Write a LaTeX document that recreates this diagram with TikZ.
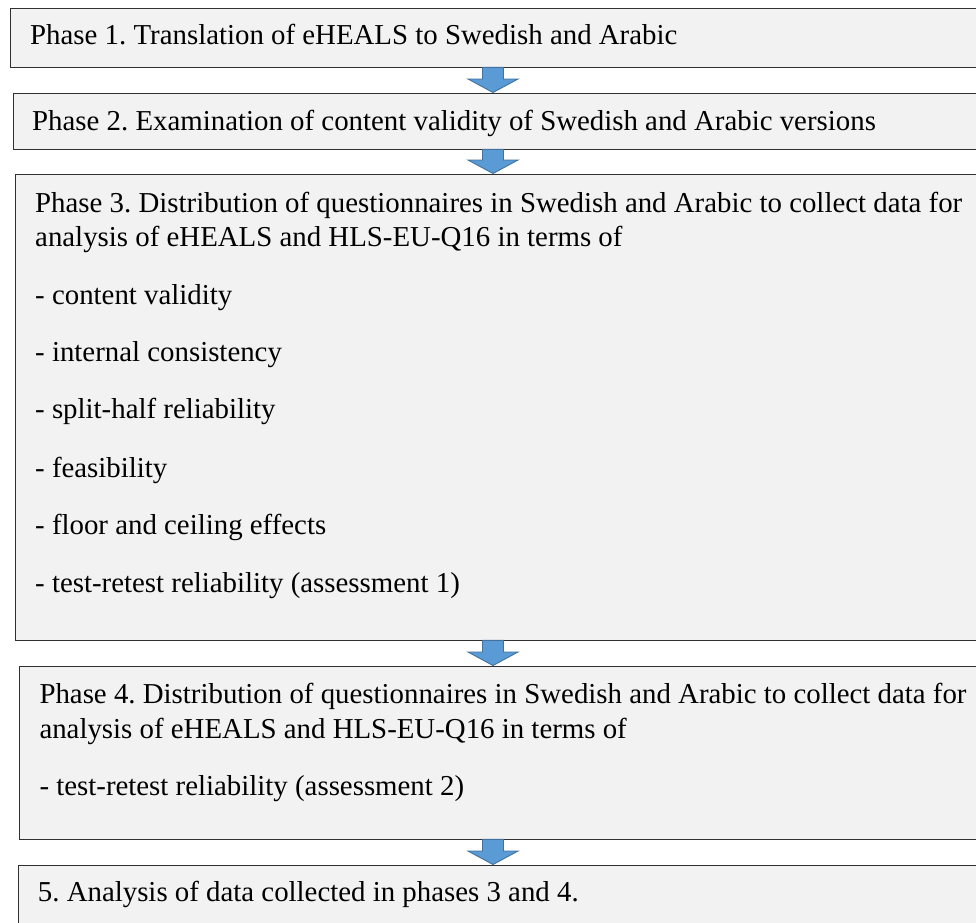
\documentclass[tikz,border=0pt]{standalone}
\usepackage{fontspec}
\setmainfont{Liberation Serif}
\usetikzlibrary{calc}
\definecolor{boxfill}{HTML}{F2F2F2}
\definecolor{boxline}{HTML}{303030}
\definecolor{arrfill}{HTML}{5B9BD5}
\definecolor{arrline}{HTML}{41719C}
\tikzset{
  phasebox/.style={draw=boxline, fill=boxfill, line width=0.9pt, rectangle, inner sep=0pt, anchor=north west},
  txt/.style={anchor=base west, inner sep=0pt, font=\rmfamily\fontsize{28.85}{34}\selectfont},
  barrow/.style={fill=arrfill, draw=arrline, line width=0.9pt, line join=miter}
}
\newcommand{\blockarrow}[2]{%
  \draw[barrow] let \p1=(#1.south), \p2=(#2.north), \n1={\y2+13.5} in
    (482.5,\y1) -- (503.5,\y1) -- (503.5,\n1) -- (518,\n1) -- (493,\y2) -- (468,\n1) -- (482.5,\n1) -- cycle;}
\frenchspacing
\begin{document}
\begin{tikzpicture}[x=1pt,y=1pt]
\useasboundingbox (0,0) rectangle (976,-922);
\clip (0,0) rectangle (976,-922);
\fill[white] (0,0) rectangle (976,-922);
% boxes
\node[phasebox, minimum width=990.5, minimum height=59] (b1) at (9.5,-7.5) {};
\node[phasebox, minimum width=987.5, minimum height=56] (b2) at (12.5,-92.5) {};
\node[phasebox, minimum width=985, minimum height=466] (b3) at (15,-173.5) {};
\node[phasebox, minimum width=981, minimum height=173] (b4) at (19,-665.5) {};
\node[phasebox, minimum width=982, minimum height=80] (b5) at (18,-864.5) {};
% arrows
\blockarrow{b1}{b2}
\blockarrow{b2}{b3}
\blockarrow{b3}{b4}
\blockarrow{b4}{b5}
% texts
\node[txt] (t1) at (30,-44.3) {Phase 1. Translation of eHEALS to Swedish and Arabic};
\node[txt] (t2) at (32,-130) {Phase 2. Examination of content validity of Swedish and Arabic versions};
\node[txt] (t3a) at (35,-212) {Phase 3. Distribution of questionnaires in Swedish and Arabic to collect data for};
\node[txt] (t3b) at (35,-246) {analysis of eHEALS and HLS-EU-Q16 in terms of};
\node[txt] (t3c) at (35,-304) {- content validity};
\node[txt] (t3d) at (35,-361) {- internal consistency};
\node[txt] (t3e) at (35,-418) {- split-half reliability};
\node[txt] (t3f) at (35,-477) {- feasibility};
\node[txt] (t3g) at (35,-534) {- floor and ceiling effects};
\node[txt] (t3h) at (35,-592) {- test-retest reliability (assessment 1)};
\node[txt] (t4a) at (39.3,-703.3) {Phase 4. Distribution of questionnaires in Swedish and Arabic to collect data for};
\node[txt] (t4b) at (39.3,-738.3) {analysis of eHEALS and HLS-EU-Q16 in terms of};
\node[txt] (t4c) at (39.3,-795) {- test-retest reliability (assessment 2)};
\node[txt] (t5) at (37.7,-901.7) {5. Analysis of data collected in phases 3 and 4.};
\end{tikzpicture}
\end{document}
